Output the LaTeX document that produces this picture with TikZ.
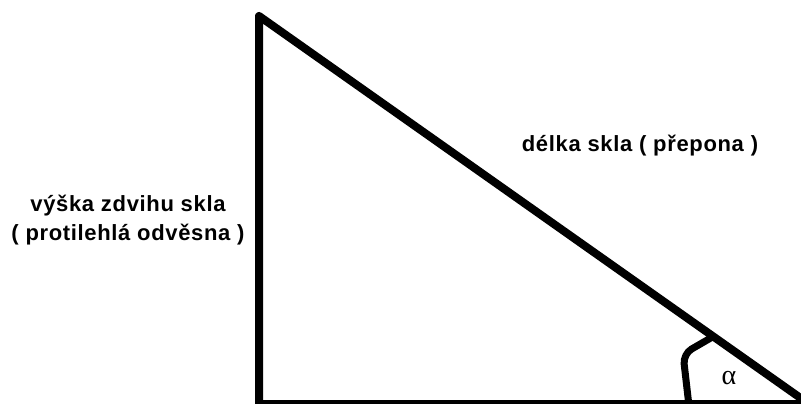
\documentclass[tikz,border=0pt]{standalone}
\usepackage{fontspec}
\setmainfont{Liberation Sans}
\newfontfamily\serifalpha{Liberation Serif}
\usetikzlibrary{calc}
\begin{document}
\begin{tikzpicture}[x=1pt,y=-1pt,
  edge/.style={line width=8pt,line join=round},
  anglemark/.style={line width=7pt,rounded corners=10pt},
  lbl/.style={font=\fontsize{22}{29}\selectfont\bfseries\addfontfeatures{LetterSpace=3},align=center,inner sep=0pt}]
\useasboundingbox (0,0) rectangle (801,404);
\clip (0,0) rectangle (801,404);
\coordinate (A) at (259,16);
\coordinate (B) at (259,404);
\coordinate (C) at (809,404);
\draw[edge] (C) -- (A) -- (B) -- (C);
\coordinate (M) at ($(A)!0.826!(C)$);
\coordinate (K) at (683,354);
\coordinate (L) at (689,406);
\draw[anglemark] (M) -- (K) -- (L);
\node[lbl] (hyp) at (640,146) {délka skla ( přepona )};
\node[lbl] (opp) at (128,220) {výška zdvihu skla\\( protilehlá odvěsna )};
\node[font=\serifalpha\fontsize{28}{30}\selectfont,inner sep=0pt] (alpha) at (729,378) {α};
\end{tikzpicture}
\end{document}
